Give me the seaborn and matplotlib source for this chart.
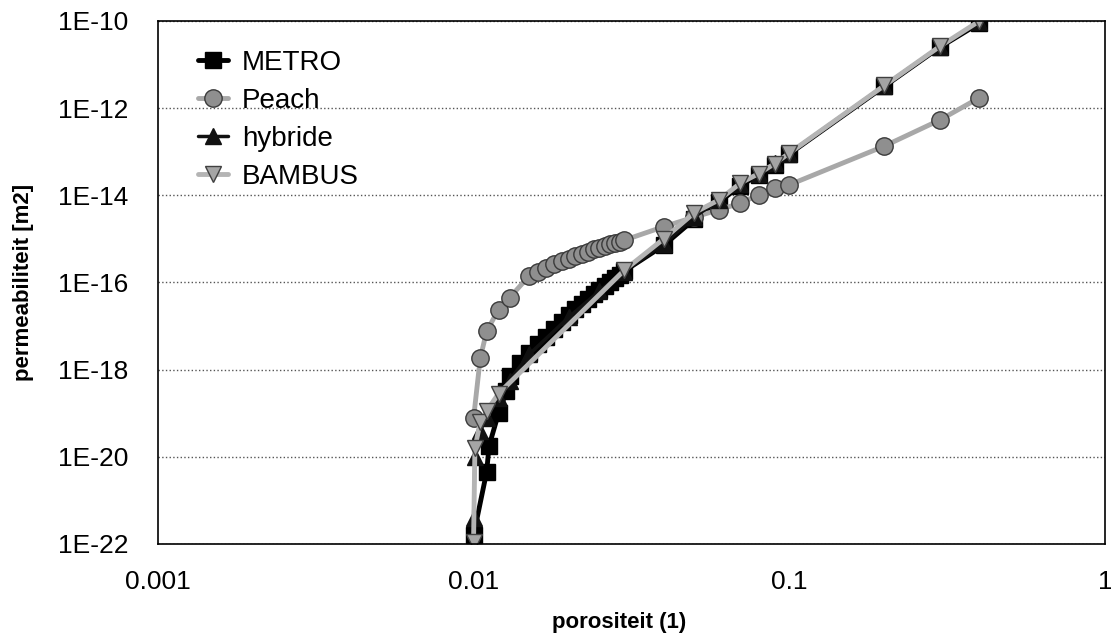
import numpy as np
import pandas as pd
import seaborn as sns
import matplotlib.pyplot as plt
from matplotlib.ticker import FixedLocator, LogLocator, NullLocator

# porosity (-) and log10 of permeability (m2)
metro_phi = [0.0100, 0.0110, 0.0112, 0.0120, 0.0127, 0.013, 0.014, 0.015, 0.016, 0.017,
             0.018, 0.019, 0.020, 0.021, 0.022, 0.023, 0.024, 0.025, 0.026, 0.027,
             0.028, 0.029, 0.030, 0.04, 0.05, 0.06, 0.07, 0.08, 0.09, 0.1,
             0.2, 0.3, 0.4]
metro_logk = [-21.8, -20.35, -19.75, -19.0, -18.5, -18.15, -17.85, -17.62, -17.42, -17.24,
              -17.06, -16.9, -16.75, -16.61, -16.5, -16.38, -16.27, -16.17, -16.07, -15.98,
              -15.9, -15.82, -15.74, -15.15, -14.55, -14.15, -13.78, -13.53, -13.3, -13.05,
              -11.5, -10.6, -10.05]

peach_phi = [0.0100, 0.0105, 0.011, 0.012, 0.013, 0.015, 0.016, 0.017, 0.018, 0.019,
             0.020, 0.021, 0.022, 0.023, 0.024, 0.025, 0.026, 0.027, 0.028, 0.029,
             0.030, 0.04, 0.05, 0.06, 0.07, 0.08, 0.09, 0.1, 0.2, 0.3, 0.4]
peach_logk = [-19.12, -17.74, -17.12, -16.62, -16.35, -15.85, -15.75, -15.66, -15.58, -15.51,
              -15.45, -15.39, -15.34, -15.29, -15.24, -15.2, -15.16, -15.12, -15.09, -15.06,
              -15.03, -14.72, -14.5, -14.33, -14.18, -13.99, -13.84, -13.76, -12.87, -12.27, -11.76]

hybride_phi = [0.0100, 0.0101, 0.0105, 0.011, 0.012, 0.013, 0.015, 0.02, 0.025, 0.03,
               0.04, 0.05, 0.06, 0.07, 0.08, 0.09, 0.1, 0.2, 0.3, 0.4]
hybride_logk = [-21.4, -20.0, -19.4, -19.1, -18.65, -18.25, -17.65, -16.8, -16.2, -15.75,
                -15.12, -14.5, -14.1, -13.75, -13.5, -13.26, -13.05, -11.5, -10.6, -10.03]

bambus_phi = [0.0100, 0.0101, 0.0105, 0.011, 0.012, 0.03, 0.04, 0.05, 0.06, 0.07,
              0.08, 0.09, 0.1, 0.2, 0.3, 0.4]
bambus_logk = [-21.95, -19.8, -19.2, -18.95, -18.55, -15.72, -15.0, -14.4, -14.1, -13.72,
               -13.5, -13.27, -13.03, -11.48, -10.58, -10.0]

ytick_vals = [1e-22, 1e-20, 1e-18, 1e-16, 1e-14, 1e-12, 1e-10]
ytick_labels = ['1E-22', '1E-20', '1E-18', '1E-16', '1E-14', '1E-12', '1E-10']
xtick_vals = [0.001, 0.01, 0.1, 1]
xtick_labels = ['0.001', '0.01', '0.1', '1']

sns.set_style('white')
plt.rcParams['font.family'] = ['Liberation Sans', 'DejaVu Sans']
plt.rcParams['text.color'] = 'black'
plt.rcParams['axes.labelcolor'] = 'black'
plt.rcParams['xtick.color'] = 'black'
plt.rcParams['ytick.color'] = 'black'

fig = plt.figure(figsize=(11.11, 6.36), dpi=100)
ax = fig.add_axes([0.142, 0.1447, 0.8527, 0.8223])


def draw(phi, logk, label, marker, line, face, edge, lw, ms):
    df = pd.DataFrame({'phi': phi, 'k': 10.0 ** np.array(logk)})
    sns.lineplot(data=df, x='phi', y='k', ax=ax, label=label, color=line, lw=lw,
                 marker=marker, markersize=ms, markerfacecolor=face,
                 markeredgecolor=edge, markeredgewidth=1.0, sort=False, estimator=None)


draw(metro_phi, metro_logk, 'METRO', 's', '#000000', '#000000', '#000000', 3.5, 12)
draw(peach_phi, peach_logk, 'Peach', 'o', '#a8a8a8', '#8f8f8f', '#3a3a3a', 3.5, 12.5)
draw(hybride_phi, hybride_logk, 'hybride', '^', '#111111', '#111111', '#111111', 2.5, 12)
draw(bambus_phi, bambus_logk, 'BAMBUS', 'v', '#b4b4b4', '#a5a5a5', '#404040', 3.5, 12)

ax.set_xscale('log')
ax.set_yscale('log')
ax.set_xlim(0.001, 1)
ax.set_ylim(1e-22, 1e-10)

ax.yaxis.set_major_locator(FixedLocator(ytick_vals))
ax.set_yticklabels(ytick_labels)
ax.yaxis.set_minor_locator(NullLocator())
ax.xaxis.set_major_locator(FixedLocator(xtick_vals))
ax.set_xticklabels(xtick_labels)
ax.xaxis.set_minor_locator(LogLocator(base=10, subs=np.arange(2, 10)))

ax.tick_params(axis='x', which='major', direction='in', length=10, width=1, labelsize=19, pad=19)
ax.tick_params(axis='x', which='minor', direction='in', length=4, width=0.8)
ax.tick_params(axis='y', which='major', length=0, labelsize=19, pad=21)

ax.grid(axis='y', which='major', linestyle=':', color='#555555', linewidth=1)
ax.grid(axis='x', visible=False)
for s in ax.spines.values():
    s.set_color('#000000')
    s.set_linewidth(1.2)

ax.set_xlabel('porositeit (1)', fontsize=16, fontweight='bold')
ax.set_ylabel('permeabiliteit [m2]', fontsize=16, fontweight='bold')
ax.xaxis.set_label_coords(0.487, -0.131)
ax.yaxis.set_label_coords(-0.131, 0.5)

ax.legend(loc='upper left', bbox_to_anchor=(0.042, 0.945), frameon=False, fontsize=20,
          handlelength=1.1, handletextpad=0.5, labelspacing=0.43, borderpad=0, borderaxespad=0)

fig.savefig('out.png', dpi=100)
